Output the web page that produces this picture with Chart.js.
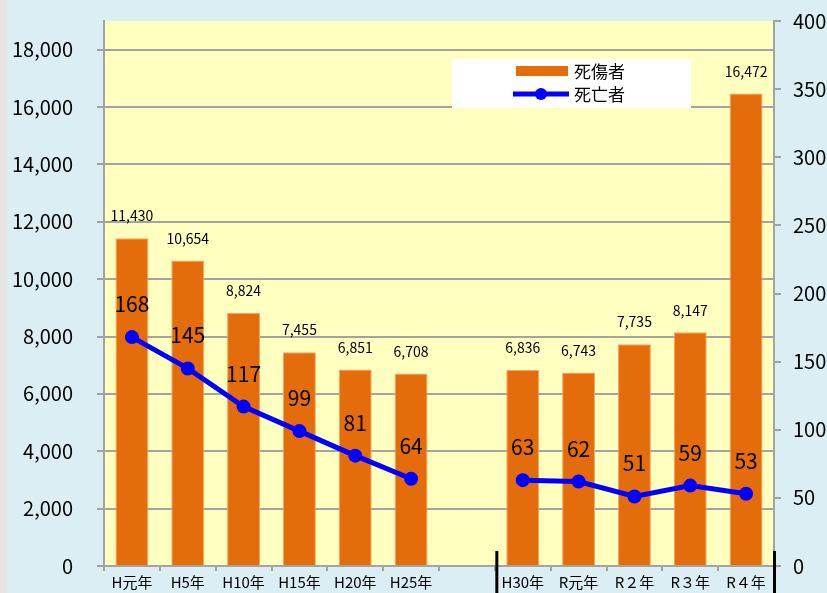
<!DOCTYPE html>
<html lang="ja">
<head>
<meta charset="utf-8">
<title>死傷者・死亡者の推移</title>
<script src="https://cdn.jsdelivr.net/npm/chart.js@4.4.1/dist/chart.umd.min.js"></script>
<style>
  html, body { margin: 0; padding: 0; background: #dbeef4; }
  canvas { display: block; }
</style>
</head>
<body>
<canvas id="chart" width="827" height="593"></canvas>
<script>
// years (the empty slot is the break between H25 and H30)
const years = ['H元年', 'H5年', 'H10年', 'H15年', 'H20年', 'H25年', '', 'H30年', 'R元年', 'R２年', 'R３年', 'R４年'];
const casualties = [11430, 10654, 8824, 7455, 6851, 6708, null, 6836, 6743, 7735, 8147, 16472];
const deaths = [168, 145, 117, 99, 81, 64, null, 63, 62, 51, 59, 53];
const casualtyTicks = [0, 2000, 4000, 6000, 8000, 10000, 12000, 14000, 16000, 18000];
const deathTicks = [0, 50, 100, 150, 200, 250, 300, 350, 400];

const FONT = "'Noto Sans CJK JP', sans-serif";
const GRID = '#a3a3a3';
const fmt = (v) => v.toLocaleString('en-US');

const backdrop = {
  id: 'backdrop',
  beforeDraw(chart) {
    const { ctx, chartArea: a } = chart;
    ctx.save();
    ctx.fillStyle = '#dbeef4';
    ctx.fillRect(0, 0, chart.width, chart.height);
    ctx.fillStyle = '#e6e3e5';
    ctx.fillRect(0, 0, 7, chart.height);
    ctx.fillStyle = '#ffffc0';
    ctx.fillRect(a.left, a.top, a.right - a.left, a.bottom - a.top);
    ctx.restore();
  },
  afterDraw(chart) {
    // axis break marks
    const { ctx, chartArea: a } = chart;
    const x = chart.scales.x;
    const gap = (x.getPixelForValue(6) + x.getPixelForValue(7)) / 2;
    ctx.save();
    ctx.fillStyle = '#000';
    ctx.fillRect(gap + 0.5, a.bottom - 15, 3, chart.height);
    ctx.fillRect(a.right - 1, a.bottom - 15, 3, chart.height);
    ctx.restore();
  }
};

const valueLabels = {
  id: 'valueLabels',
  afterDatasetsDraw(chart) {
    const { ctx } = chart;
    ctx.save();
    ctx.fillStyle = '#000';
    ctx.textAlign = 'center';
    ctx.textBaseline = 'middle';
    chart.data.datasets.forEach((ds, i) => {
      const meta = chart.getDatasetMeta(i);
      const isBar = ds.type === 'bar';
      ctx.font = isBar ? `14px ${FONT}` : `21px ${FONT}`;
      meta.data.forEach((el, j) => {
        const v = ds.data[j];
        if (v == null) return;
        ctx.fillText(fmt(v), el.x, el.y - (isBar ? 22 : 33));
      });
    });
    ctx.restore();
  }
};

const boxLegend = {
  id: 'boxLegend',
  afterDraw(chart) {
    const { ctx } = chart;
    const [bars, line] = [chart.data.datasets[1], chart.data.datasets[0]];
    ctx.save();
    ctx.fillStyle = '#fff';
    ctx.fillRect(452, 59, 239, 49);
    ctx.fillStyle = bars.backgroundColor;
    ctx.fillRect(516, 66, 52, 10);
    ctx.strokeStyle = line.borderColor;
    ctx.lineWidth = 5;
    ctx.beginPath();
    ctx.moveTo(513, 94);
    ctx.lineTo(569, 94);
    ctx.stroke();
    ctx.fillStyle = line.borderColor;
    ctx.beginPath();
    ctx.arc(541, 94, 6, 0, Math.PI * 2);
    ctx.fill();
    ctx.fillStyle = '#000';
    ctx.font = `17px ${FONT}`;
    ctx.textBaseline = 'middle';
    ctx.fillText(bars.label, 574, 72);
    ctx.fillText(line.label, 574, 95);
    ctx.restore();
  }
};

// keep axis sizes fixed so the plot area lands where the original has it
const fixY = (w) => (s) => { s.width = w; s.paddingTop = 0; s.paddingBottom = 0; };

new Chart(document.getElementById('chart'), {
  data: {
    labels: years,
    datasets: [
      {
        type: 'line',
        label: '死亡者',
        data: deaths,
        yAxisID: 'y1',
        borderColor: '#0000ff',
        backgroundColor: '#0000ff',
        borderWidth: 5,
        pointRadius: 7,
        pointBorderWidth: 0,
        spanGaps: false,
        order: 0,
      },
      {
        type: 'bar',
        label: '死傷者',
        data: casualties,
        yAxisID: 'y',
        backgroundColor: '#e46c0a',
        borderColor: '#f3a865',
        borderWidth: 1,
        categoryPercentage: 1,
        barPercentage: 0.59,
        order: 1,
      },
    ],
  },
  options: {
    responsive: false,
    devicePixelRatio: 1,
    animation: false,
    layout: { padding: { top: 21, left: 0, right: 0, bottom: 0 } },
    plugins: {
      legend: { display: false },
      tooltip: { enabled: false },
    },
    scales: {
      x: {
        offset: true,
        grid: { offset: true, drawOnChartArea: false, color: GRID, lineWidth: 2, tickLength: 5 },
        border: { color: GRID, width: 2 },
        ticks: { color: '#000', font: { family: FONT, size: 15 }, padding: 2, maxRotation: 0, autoSkip: false },
        afterFit: (s) => { s.height = 27; s.paddingLeft = 0; s.paddingRight = 0; },
      },
      y: {
        position: 'left',
        min: 0,
        max: 19000,
        afterBuildTicks: (s) => { s.ticks = casualtyTicks.map((v) => ({ value: v })); },
        grid: { color: GRID, lineWidth: 2, tickLength: 7 },
        border: { color: GRID, width: 2 },
        ticks: { color: '#000', font: { family: FONT, size: 20 }, padding: 24, callback: (v) => fmt(v) },
        afterFit: fixY(104),
      },
      y1: {
        position: 'right',
        min: 0,
        max: 400,
        afterBuildTicks: (s) => { s.ticks = deathTicks.map((v) => ({ value: v })); },
        grid: { drawOnChartArea: false, color: GRID, lineWidth: 2, tickLength: 7 },
        border: { color: GRID, width: 2 },
        ticks: { color: '#000', font: { family: FONT, size: 20 }, padding: 12 },
        afterFit: fixY(53),
      },
    },
  },
  plugins: [backdrop, valueLabels, boxLegend],
});
</script>
</body>
</html>
